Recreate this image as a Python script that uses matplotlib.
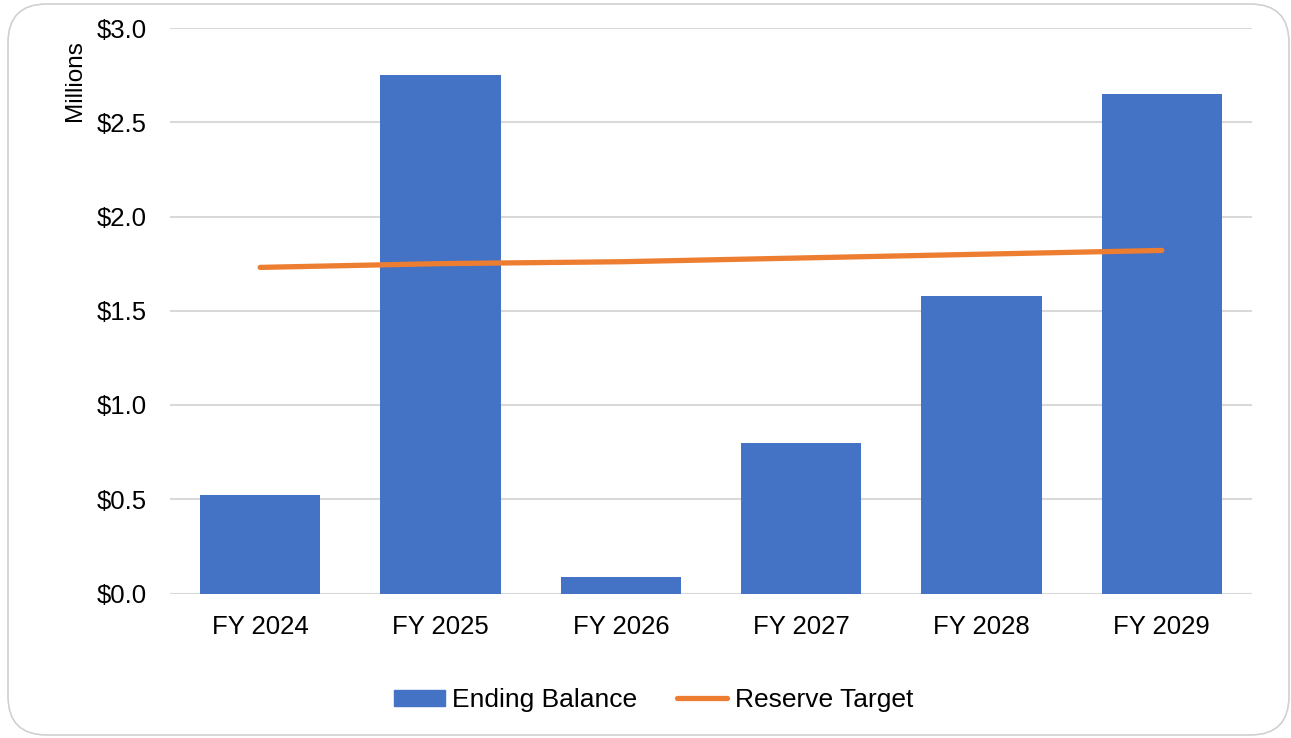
import matplotlib
matplotlib.use("Agg")
import matplotlib.pyplot as plt
from matplotlib.patches import FancyBboxPatch, Patch
from matplotlib.lines import Line2D
from matplotlib.ticker import FuncFormatter

categories = ["FY 2024", "FY 2025", "FY 2026", "FY 2027", "FY 2028", "FY 2029"]
ending_balance = [0.52, 2.75, 0.09, 0.80, 1.58, 2.65]
reserve_target = [1.73, 1.75, 1.76, 1.78, 1.80, 1.82]
y_ticks = [0.0, 0.5, 1.0, 1.5, 2.0, 2.5, 3.0]

plt.rcParams['font.family'] = ['Liberation Sans', 'DejaVu Sans']

bar_color = "#4472C4"
line_color = "#ED7D31"
grid_color = "#D9D9D9"

fig = plt.figure(figsize=(12.91, 7.38), dpi=100)
fig.patch.set_facecolor("white")

border = FancyBboxPatch((8/1291, 3/738), (1281)/1291, (731)/738,
                        boxstyle="round,pad=0,rounding_size=0.03",
                        transform=fig.transFigure, facecolor="white",
                        edgecolor="#D0D0D0", linewidth=1.2, zorder=-10,
                        mutation_aspect=1291/738)
fig.patches.append(border)

ax = fig.add_axes([170/1291, 1 - 593.5/738, (1252 - 170)/1291, (593.5 - 28)/738])
ax.set_facecolor("none")
ax.set_zorder(1)

x = list(range(len(categories)))
ax.bar(x, ending_balance, width=0.666, color=bar_color, zorder=2)
ax.plot(x, reserve_target, color=line_color, linewidth=3.8,
        solid_capstyle="round", zorder=3)

ax.set_xlim(-0.5, len(categories) - 0.5)
ax.set_ylim(0, 3.0)
ax.set_yticks(y_ticks)
ax.yaxis.set_major_formatter(FuncFormatter(lambda v, p: f"${v:.1f}"))
ax.set_xticks(x)
ax.set_xticklabels(categories)
ax.tick_params(axis="both", length=0, labelsize=18.5, colors="black")
ax.tick_params(axis="y", pad=16.5)
ax.tick_params(axis="x", pad=15.5)

ax.grid(axis="y", color=grid_color, linewidth=1.5, zorder=0)
ax.set_axisbelow(True)
for s in ax.spines.values():
    s.set_visible(False)

fig.text(75/1291, 1 - 81/738, "Millions", rotation=90, fontsize=17.5,
         ha="center", va="center")

handles = [Patch(facecolor=bar_color, edgecolor=bar_color),
           Line2D([0], [0], color=line_color, linewidth=3.8, solid_capstyle="round")]
fig.legend(handles, ["Ending Balance", "Reserve Target"], loc="center",
           bbox_to_anchor=(654/1291, 1 - 700/738), ncol=2, frameon=False,
           fontsize=19, handlelength=1.9, handleheight=0.55,
           handletextpad=0.3, columnspacing=1.5)

fig.savefig("out.png", dpi=100, facecolor="white")
